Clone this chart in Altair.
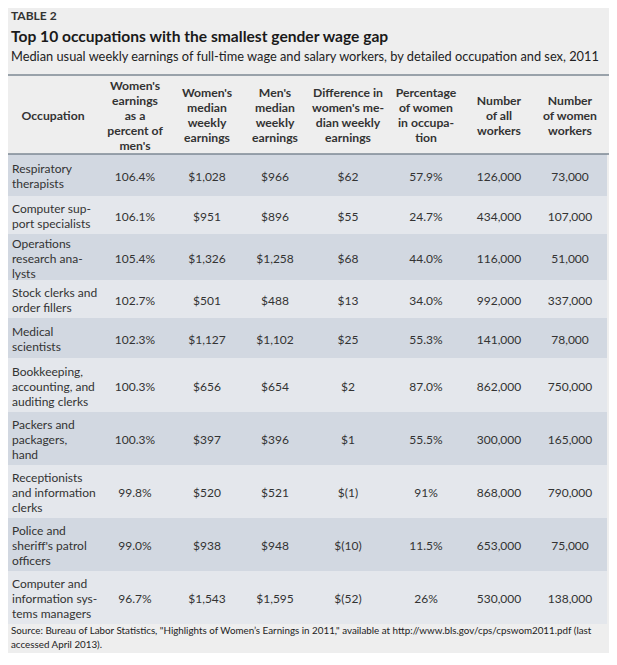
import altair as alt
import pandas as pd

# ---------------- data ----------------
occupations = [
    "Respiratory\ntherapists",
    "Computer sup-\nport specialists",
    "Operations\nresearch ana-\nlysts",
    "Stock clerks and\norder fillers",
    "Medical\nscientists",
    "Bookkeeping,\naccounting, and\nauditing clerks",
    "Packers and\npackagers,\nhand",
    "Receptionists\nand information\nclerks",
    "Police and\nsheriff's patrol\nofficers",
    "Computer and\ninformation sys-\ntems managers",
]
pct_of_mens = [106.4, 106.1, 105.4, 102.7, 102.3, 100.3, 100.3, 99.8, 99.0, 96.7]
women_median = [1028, 951, 1326, 501, 1127, 656, 397, 520, 938, 1543]
men_median = [966, 896, 1258, 488, 1102, 654, 396, 521, 948, 1595]
difference = [62, 55, 68, 13, 25, 2, 1, -1, -10, -52]
pct_women = ["57.9%", "24.7%", "44.0%", "34.0%", "55.3%", "87.0%", "55.5%", "91%", "11.5%", "26%"]
all_workers = [126000, 434000, 116000, 992000, 141000, 862000, 300000, 868000, 653000, 530000]
women_workers = [73000, 107000, 51000, 337000, 78000, 750000, 165000, 790000, 75000, 138000]

headers = [
    "Occupation",
    "Women's\nearnings\nas a\npercent of\nmen's",
    "Women's\nmedian\nweekly\nearnings",
    "Men's\nmedian\nweekly\nearnings",
    "Difference in\nwomen's me-\ndian weekly\nearnings",
    "Percentage\nof women\nin occupa-\ntion",
    "Number\nof all\nworkers",
    "Number\nof women\nworkers",
]

label = "TABLE 2"
title = "Top 10 occupations with the smallest gender wage gap"
subtitle = ("Median usual weekly earnings of full-time wage and salary workers, "
            "by detailed occupation and sex, 2011")
source = [
    "Source: Bureau of Labor Statistics, \"Highlights of Women\u2019s Earnings in 2011,\" "
    "available at http://www.bls.gov/cps/cpswom2011.pdf (last",
    "accessed April 2013).",
]

# ---------------- layout (image pixel coordinates) ----------------
W, H = 601, 645
xs = alt.Scale(domain=[8, 8 + W], range=[0, W])
ys = alt.Scale(domain=[8, 8 + H], range=[0, H])
X = lambda f="x": alt.X(f"{f}:Q", scale=xs, axis=None)
Y = lambda f="y": alt.Y(f"{f}:Q", scale=ys, axis=None)

col_x = [12, 135, 207, 275, 348, 426, 499, 570]
head_x = [53] + col_x[1:]
row_heights = [42, 38, 46, 38, 40, 54, 53, 53, 53, 53]
table_top = 154
head_mid = 115.5
LINE = 15
FONT = "Lato"
TXT = "#333333"


def fmt_money(v):
    return f"${v:,}" if v >= 0 else f"$({abs(v):,})"


def first_line_y(center, text):
    n = text.count("\n") + 1
    return center - (n - 1) * LINE / 2


cols = [
    [f"{v:.1f}%" for v in pct_of_mens],
    [fmt_money(v) for v in women_median],
    [fmt_money(v) for v in men_median],
    [fmt_money(v) for v in difference],
    pct_women,
    [f"{v:,}" for v in all_workers],
    [f"{v:,}" for v in women_workers],
]

bands, occ_cells, val_cells = [], [], []
top = table_top
for i, h in enumerate(row_heights):
    bands.append({"x": 6, "x2": 607, "y": top, "y2": top + h,
                  "fill": "#d2d8e1" if i % 2 == 0 else "#e4e7ec"})
    cy = top + h / 2 + 1.5
    occ_cells.append({"x": col_x[0], "y": first_line_y(cy, occupations[i]),
                      "text": occupations[i]})
    for j, c in enumerate(cols):
        val_cells.append({"x": col_x[j + 1], "y": cy, "text": c[i]})
    top += h

panel = pd.DataFrame([{"x": 4, "x2": 610, "y": 4, "y2": 656, "fill": "#eeeeee"}])
bands = pd.DataFrame(bands)
rules = pd.DataFrame([{"x": 4, "x2": 610, "y": 75}, {"x": 4, "x2": 610, "y": table_top}])
head_cells = [{"x": head_x[j], "y": first_line_y(head_mid, t), "text": t}
              for j, t in enumerate(headers)]


def rect_layer(df):
    return alt.Chart(df).mark_rect().encode(
        x=X("x"), x2="x2:Q", y=Y("y"), y2="y2:Q",
        color=alt.Color("fill:N", scale=None))


def text_layer(df, **kw):
    base = dict(font=FONT, color=TXT, baseline="middle", lineBreak="\n", lineHeight=LINE)
    base.update(kw)
    return alt.Chart(pd.DataFrame(df)).mark_text(**base).encode(
        x=X("x"), y=Y("y"), text="text:N")


layers = [
    rect_layer(panel),
    rect_layer(bands),
    alt.Chart(rules).mark_rule(color="#7c8893", strokeWidth=1.3).encode(
        x=X("x"), x2="x2:Q", y=Y("y")),
    text_layer([{"x": 11, "y": 16, "text": label}], align="left", fontSize=12,
               fontWeight="bold", color="#333333"),
    text_layer([{"x": 11, "y": 37, "text": title}], align="left", fontSize=15.6,
               fontWeight="bold", color="#1a1a1a"),
    text_layer([{"x": 11, "y": 57, "text": subtitle}], align="left", fontSize=12.8,
               color="#222222"),
    text_layer(head_cells, align="center", fontSize=12.2, fontWeight="bold"),
    text_layer(occ_cells, align="left", fontSize=12),
    text_layer(val_cells, align="center", fontSize=12),
    text_layer([{"x": 11, "y": 631 + k * 14, "text": s} for k, s in enumerate(source)],
               align="left", fontSize=9.8, color="#222222"),
]

chart = alt.layer(*layers).properties(
    width=W, height=H, padding=0, autosize="none"
).configure_view(stroke=None)

chart.save("out.html", embed_options={"renderer": "svg", "actions": False})
